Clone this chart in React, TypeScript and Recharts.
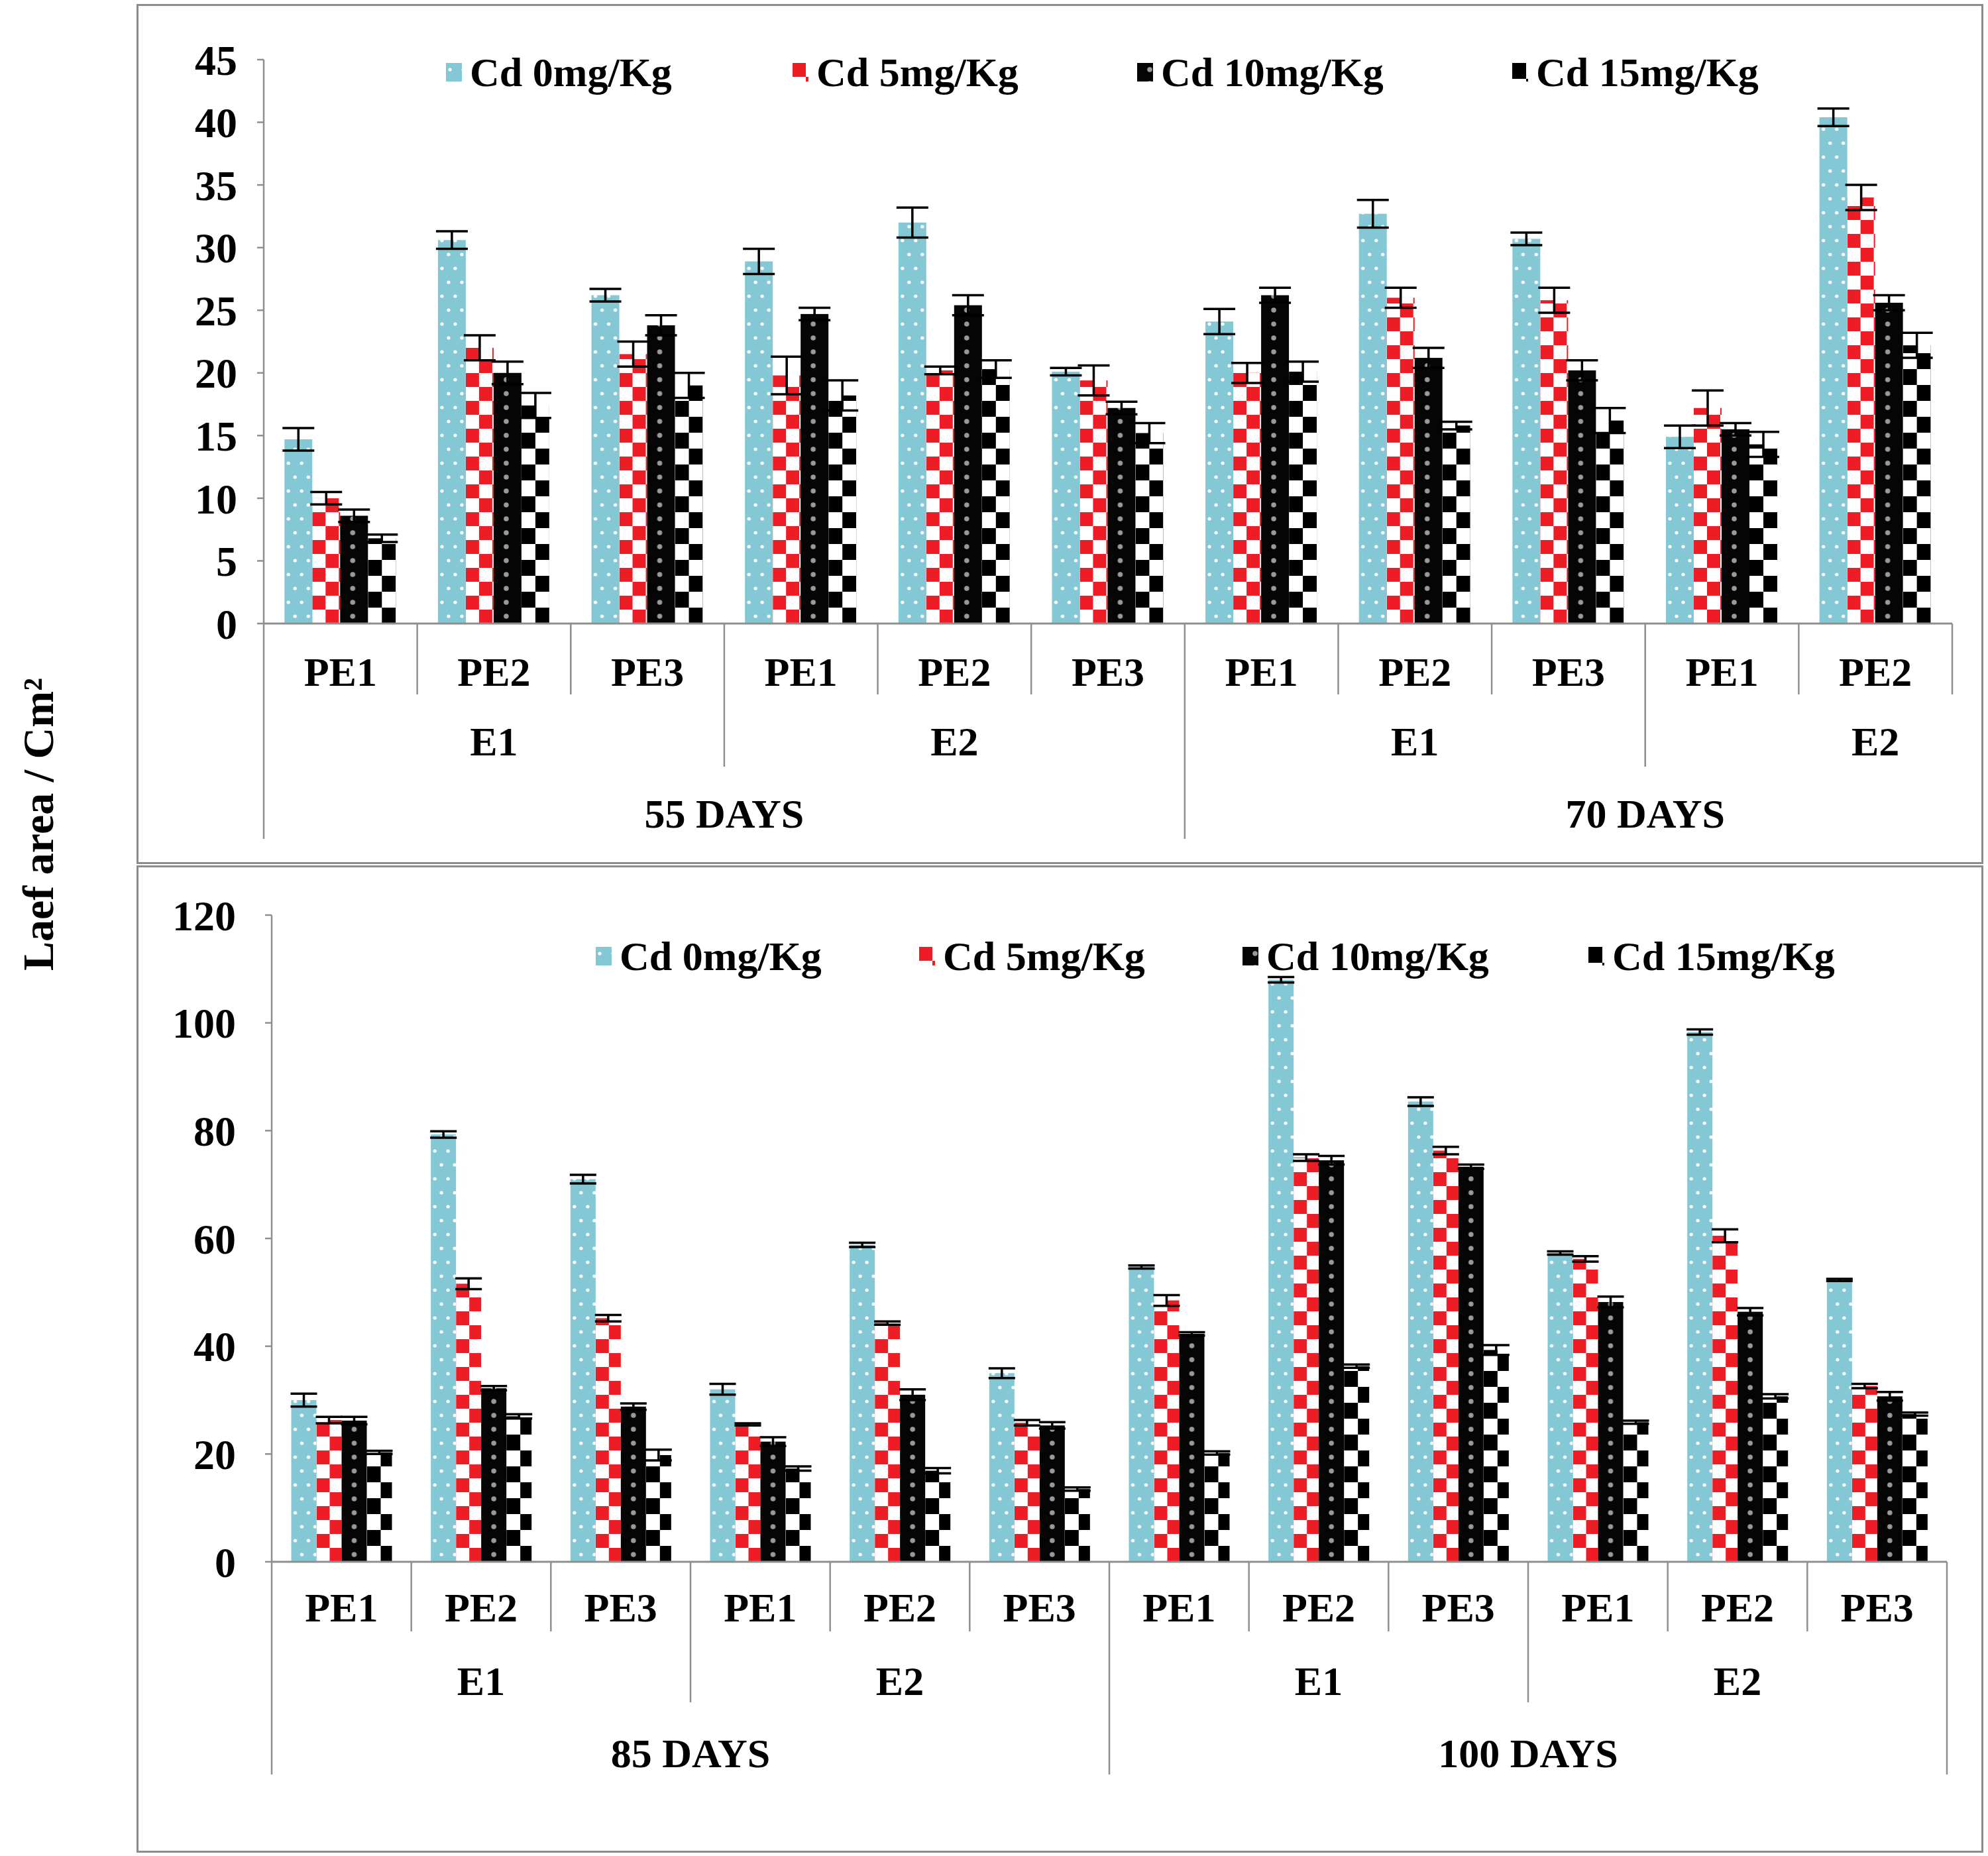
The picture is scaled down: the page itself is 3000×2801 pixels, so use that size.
import React from "react";
import { BarChart, Bar, XAxis, YAxis, ErrorBar, Legend } from "recharts";

const FONT = '"Liberation Serif", "Times New Roman", serif';

// ---------- Top panel (55 / 70 days) ----------
// (the last E2 group of 70 DAYS is cut off by the frame after PE2)
const peTop = ["PE1", "PE2", "PE3", "PE1", "PE2", "PE3", "PE1", "PE2", "PE3", "PE1", "PE2"];
const eTop = ["E1", "E1", "E1", "E2", "E2", "E2", "E1", "E1", "E1", "E2", "E2"];
const daysTop = ["55 DAYS", "55 DAYS", "55 DAYS", "55 DAYS", "55 DAYS", "55 DAYS", "70 DAYS", "70 DAYS", "70 DAYS", "70 DAYS", "70 DAYS"];
const cd0Top = [14.7, 30.6, 26.2, 28.9, 32.0, 20.1, 24.1, 32.7, 30.7, 14.9, 40.4];
const cd0TopErr = [0.9, 0.7, 0.5, 1.0, 1.2, 0.3, 1.0, 1.1, 0.5, 0.9, 0.7];
const cd5Top = [10.0, 22.0, 21.5, 19.8, 20.2, 19.4, 20.0, 26.0, 25.8, 17.2, 34.0];
const cd5TopErr = [0.5, 1.0, 1.0, 1.5, 0.3, 1.2, 0.8, 0.8, 1.0, 1.4, 1.0];
const cd10Top = [8.6, 20.0, 23.8, 24.7, 25.4, 17.2, 26.2, 21.2, 20.2, 15.5, 25.6];
const cd10TopErr = [0.5, 0.9, 0.8, 0.5, 0.8, 0.5, 0.6, 0.8, 0.8, 0.5, 0.6];
const cd15Top = [6.8, 17.4, 19.0, 18.2, 20.3, 15.2, 20.1, 15.8, 16.2, 14.3, 22.2];
const cd15TopErr = [0.3, 1.0, 1.0, 1.2, 0.7, 0.8, 0.8, 0.3, 1.0, 1.0, 1.0];
const yTicksTop = [0, 5, 10, 15, 20, 25, 30, 35, 40, 45];

// ---------- Bottom panel (85 / 100 days) ----------
const peBot = ["PE1", "PE2", "PE3", "PE1", "PE2", "PE3", "PE1", "PE2", "PE3", "PE1", "PE2", "PE3"];
const eBot = ["E1", "E1", "E1", "E2", "E2", "E2", "E1", "E1", "E1", "E2", "E2", "E2"];
const daysBot = ["85 DAYS", "85 DAYS", "85 DAYS", "85 DAYS", "85 DAYS", "85 DAYS", "100 DAYS", "100 DAYS", "100 DAYS", "100 DAYS", "100 DAYS", "100 DAYS"];
const cd0Bot = [30.0, 79.3, 71.0, 32.0, 58.8, 35.0, 54.7, 108.0, 85.4, 57.3, 98.3, 52.3];
const cd0BotErr = [1.2, 0.6, 0.8, 1.0, 0.4, 0.9, 0.3, 0.5, 0.8, 0.3, 0.5, 0.2];
const cd5Bot = [26.3, 51.6, 45.2, 25.5, 44.3, 25.8, 48.5, 75.0, 76.3, 56.2, 60.5, 32.6];
const cd5BotErr = [0.6, 1.0, 0.6, 0.2, 0.3, 0.5, 1.0, 0.6, 0.7, 0.5, 1.2, 0.4];
const cd10Bot = [26.2, 32.2, 28.8, 22.3, 31.0, 25.3, 42.3, 74.5, 73.3, 48.2, 46.4, 30.7];
const cd10BotErr = [0.7, 0.4, 0.6, 0.8, 1.0, 0.6, 0.3, 0.8, 0.4, 1.0, 0.7, 0.8];
const cd15Bot = [20.3, 27.0, 19.8, 17.3, 16.9, 13.5, 20.2, 36.3, 39.3, 25.9, 30.7, 27.4];
const cd15BotErr = [0.3, 0.4, 1.0, 0.4, 0.5, 0.3, 0.3, 0.3, 0.9, 0.3, 0.4, 0.3];
const yTicksBot = [0, 20, 40, 60, 80, 100, 120];

// each E group holds 3 PE categories, each DAYS group holds 6
const E_GROUP_SIZE = 3;
const DAYS_GROUP_SIZE = 6;

const seriesLabels = ["Cd 0mg/Kg", "Cd 5mg/Kg", "Cd 10mg/Kg", "Cd 15mg/Kg"];
const seriesKeys = ["c0", "c5", "c10", "c15"];
const errKeys = ["r0", "r5", "r10", "r15"];
const seriesFills = ["url(#pCyan)", "url(#pRed)", "url(#pBlack)", "url(#pChk)"];
const yLabel = "Laef area / Cm²";

type Row = { key: string; pe: string; e: string; days: string; [k: string]: any };

function buildRows(pe: string[], e: string[], days: string[], s: number[][], r: number[][]): Row[] {
  return pe.map((p, i) => ({
    key: String(i),
    pe: p,
    e: e[i],
    days: days[i],
    c0: s[0][i], c5: s[1][i], c10: s[2][i], c15: s[3][i],
    r0: r[0][i], r5: r[1][i], r10: r[2][i], r15: r[3][i],
  }));
}

const rowsTop = buildRows(peTop, eTop, daysTop, [cd0Top, cd5Top, cd10Top, cd15Top], [cd0TopErr, cd5TopErr, cd10TopErr, cd15TopErr]);
const rowsBot = buildRows(peBot, eBot, daysBot, [cd0Bot, cd5Bot, cd10Bot, cd15Bot], [cd0BotErr, cd5BotErr, cd10BotErr, cd15BotErr]);

const GRID = "#8f8f8f";
const textStyle = { fontFamily: FONT, fontWeight: 700, fontSize: 62, fill: "#000" } as any;

type Depths = { pe: number; e: number; d: number; l1: number; l2: number; l3: number };

function makeTick(rows: Row[], plotW: number, dp: Depths) {
  return (props: any) => {
    const { x, y, index } = props;
    const n = rows.length;
    const bw = plotW / n;
    const left = x - bw / 2;
    const r = rows[index];
    if (!r) return <g />;
    const prev = index > 0 ? rows[index - 1] : null;
    const dayStart = !prev || prev.days !== r.days;
    const eStart = dayStart || (prev && prev.e !== r.e);
    const depth = dayStart ? dp.l3 : eStart ? dp.l2 : dp.l1;
    const els: any[] = [];
    els.push(<line key="l" x1={left} x2={left} y1={y} y2={y + depth} stroke={GRID} strokeWidth={2.5} />);
    if (index === n - 1) {
      // closing edge: full depth only if the last DAYS group is complete
      let m = 0;
      while (index - m >= 0 && rows[index - m].days === r.days) m++;
      const endDepth = m >= DAYS_GROUP_SIZE ? dp.l3 : dp.l1;
      els.push(<line key="r" x1={left + bw} x2={left + bw} y1={y} y2={y + endDepth} stroke={GRID} strokeWidth={2.5} />);
    }
    els.push(
      <text key="pe" x={x} y={y + dp.pe} textAnchor="middle" dominantBaseline="central" style={textStyle}>
        {r.pe}
      </text>
    );
    if (eStart) {
      els.push(
        <text key="e" x={left + (E_GROUP_SIZE * bw) / 2} y={y + dp.e} textAnchor="middle" dominantBaseline="central" style={textStyle}>
          {r.e}
        </text>
      );
    }
    if (dayStart) {
      els.push(
        <text key="d" x={left + (DAYS_GROUP_SIZE * bw) / 2} y={y + dp.d} textAnchor="middle" dominantBaseline="central" style={textStyle}>
          {r.days}
        </text>
      );
    }
    return <g>{els}</g>;
  };
}

function makeLegend(offsets: number[]) {
  return () => (
    <div style={{ position: "relative", width: 2200, height: 80 }}>
      {seriesLabels.map((lab, i) => (
        <div
          key={lab}
          style={{
            position: "absolute",
            left: offsets[i],
            top: 0,
            height: 80,
            display: "flex",
            alignItems: "center",
            whiteSpace: "nowrap",
          }}
        >
          <svg width={24} height={28} style={{ marginRight: 12 }}>
            <rect x={0} y={0} width={24} height={28} fill={seriesFills[i]} />
          </svg>
          <span style={{ fontFamily: FONT, fontWeight: 700, fontSize: 62, color: "#000", lineHeight: "80px" }}>{lab}</span>
        </div>
      ))}
    </div>
  );
}

// bar shape whose pattern starts at the bar's bottom-left corner
function PatternBar(props: any) {
  const { x, y, width, height, fill } = props;
  if (!width || !height) return null;
  return (
    <g transform={`translate(${x},${y + height})`}>
      <rect x={0} y={-height} width={width} height={height} fill={fill} />
    </g>
  );
}

function Patterns() {
  return (
    <svg width={0} height={0} style={{ position: "absolute", left: 0, top: 0 }}>
      <defs>
        <pattern id="pCyan" patternUnits="userSpaceOnUse" width={20} height={42}>
          <rect width={20} height={42} fill="#84C8D5" />
          <circle cx={6} cy={10} r={2.6} fill="#ffffff" />
          <circle cx={16} cy={31} r={2.6} fill="#ffffff" />
        </pattern>
        <pattern id="pRed" patternUnits="userSpaceOnUse" width={40} height={42}>
          <rect width={40} height={42} fill="#ffffff" />
          <rect x={0} y={0} width={20} height={21} fill="#EE1D25" />
          <rect x={20} y={21} width={20} height={21} fill="#EE1D25" />
        </pattern>
        <pattern id="pBlack" patternUnits="userSpaceOnUse" width={40} height={21}>
          <rect width={40} height={21} fill="#050505" />
          <circle cx={19} cy={10} r={3.8} fill="#9a9a9a" />
        </pattern>
        <pattern id="pChk" patternUnits="userSpaceOnUse" width={42} height={48}>
          <rect width={42} height={48} fill="#ffffff" />
          <rect x={0} y={0} width={21} height={24} fill="#000000" />
          <rect x={21} y={24} width={21} height={24} fill="#000000" />
        </pattern>
      </defs>
    </svg>
  );
}

type PanelProps = {
  rows: Row[];
  width: number;
  height: number;
  margin: { top: number; right: number };
  yWidth: number;
  xHeight: number;
  domainMax: number;
  ticks: number[];
  tickMargin: number;
  depths: Depths;
  gapPct: string;
  legendLeft: number;
  legendTop: number;
  legendOffsets: number[];
  errW: number;
};

function Panel(p: PanelProps) {
  const plotW = p.width - p.yWidth - p.margin.right;
  return (
    <BarChart
      width={p.width}
      height={p.height}
      data={p.rows}
      margin={{ top: p.margin.top, right: p.margin.right, left: 0, bottom: 0 }}
      barCategoryGap={p.gapPct}
      barGap={0}
    >
      <XAxis
        dataKey="key"
        interval={0}
        height={p.xHeight}
        tickSize={0}
        tickMargin={0}
        tickLine={false}
        axisLine={{ stroke: GRID, strokeWidth: 3 }}
        tick={makeTick(p.rows, plotW, p.depths)}
      />
      <YAxis
        width={p.yWidth}
        domain={[0, p.domainMax]}
        ticks={p.ticks}
        interval={0}
        tickSize={10}
        tickMargin={p.tickMargin}
        axisLine={{ stroke: GRID, strokeWidth: 2.5 }}
        tickLine={{ stroke: GRID, strokeWidth: 2.5 }}
        tick={{ fontFamily: FONT, fontWeight: 700, fontSize: 64, fill: "#000" }}
      />
      <Legend
        layout="horizontal"
        verticalAlign="middle"
        align="center"
        wrapperStyle={{ left: p.legendLeft, top: p.legendTop, width: 2200, height: 80 }}
        content={makeLegend(p.legendOffsets)}
      />
      {seriesKeys.map((k, i) => (
        <Bar key={k} dataKey={k} name={seriesLabels[i]} fill={seriesFills[i]} shape={PatternBar} isAnimationActive={false}>
          <ErrorBar dataKey={errKeys[i]} width={p.errW} stroke="#000" strokeWidth={3.5} direction="y" />
        </Bar>
      ))}
    </BarChart>
  );
}

export default function App() {
  return (
    <div style={{ position: "absolute", left: 0, top: 0, width: 3000, height: 2801, background: "#fff" }}>
      <Patterns />
      {/* panel frames */}
      <div style={{ position: "absolute", left: 206, top: 6, width: 2781, height: 1292, border: "3px solid #8c8c8c" }} />
      <div style={{ position: "absolute", left: 206, top: 1306, width: 2781, height: 1484, border: "3px solid #8c8c8c" }} />

      <div style={{ position: "absolute", left: 207, top: 8 }}>
        <Panel
          rows={rowsTop}
          width={2783}
          height={1293}
          margin={{ top: 82, right: 44 }}
          yWidth={191}
          xHeight={360}
          domainMax={45}
          ticks={yTicksTop}
          tickMargin={30}
          depths={{ pe: 73, e: 178, d: 287, l1: 107, l2: 216, l3: 325 }}
          gapPct="13.5%"
          legendLeft={466}
          legendTop={61}
          legendOffsets={[0, 523, 1043, 1609]}
          errW={24}
        />
      </div>

      <div style={{ position: "absolute", left: 207, top: 1307 }}>
        <Panel
          rows={rowsBot}
          width={2783}
          height={1486}
          margin={{ top: 74, right: 52 }}
          yWidth={203}
          xHeight={436}
          domainMax={120}
          ticks={yTicksBot}
          tickMargin={44}
          depths={{ pe: 69, e: 180, d: 289, l1: 105, l2: 212, l3: 321 }}
          gapPct="14%"
          legendLeft={692}
          legendTop={96}
          legendOffsets={[0, 488, 976, 1498]}
          errW={20}
        />
      </div>

      <svg width={140} height={2801} style={{ position: "absolute", left: 0, top: 0 }}>
        <text
          x={57}
          y={1244}
          transform="rotate(-90, 57, 1244)"
          textAnchor="middle"
          dominantBaseline="central"
          style={{ ...textStyle, fontSize: 66 }}
        >
          {yLabel}
        </text>
      </svg>
    </div>
  );
}
